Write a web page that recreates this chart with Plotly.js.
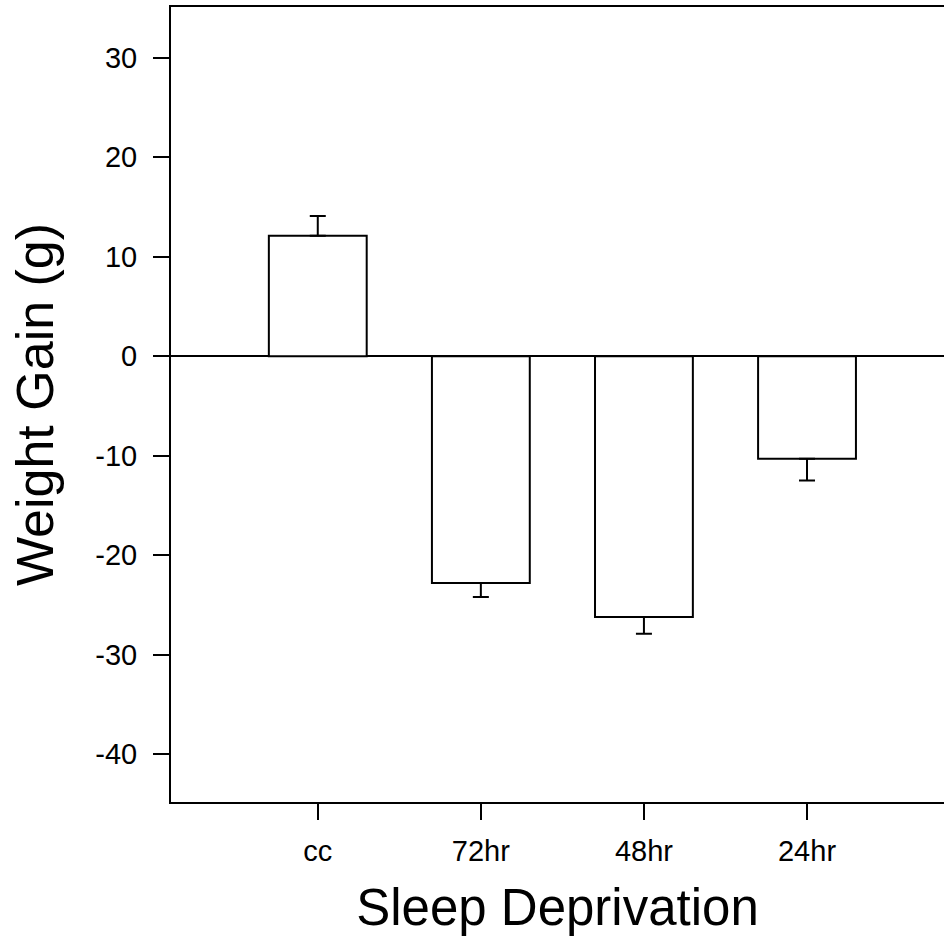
<!DOCTYPE html>
<html>
<head>
<meta charset="utf-8">
<script src="https://cdn.plot.ly/plotly-3.0.1.min.js"></script>
<style>html,body{margin:0;padding:0;background:#fff;}#chart{width:944px;height:946px;}</style>
</head>
<body>
<div id="chart"></div>
<script>
const categories = ["cc", "72hr", "48hr", "24hr"];
const values = [12.1, -22.8, -26.2, -10.3];
const errUp = [2.0, 0, 0, 0];
const errDown = [0, 1.4, 1.7, 2.2];

const FONT = "Liberation Sans, Arial, sans-serif";

const trace = {
  type: "bar",
  x: categories,
  y: values,
  width: 0.6,
  marker: {color: "#ffffff", line: {color: "#000000", width: 2}},
  error_y: {type: "data", symmetric: false, array: errUp, arrayminus: errDown,
            color: "#000000", thickness: 2, width: 8},
  hoverinfo: "none"
};

const layout = {
  width: 944, height: 946,
  margin: {l: 171, r: 0, t: 7, b: 144},
  paper_bgcolor: "#ffffff", plot_bgcolor: "#ffffff",
  showlegend: false,
  font: {family: FONT, color: "#000"},
  xaxis: {
    type: "category",
    range: [-0.9, 3.84],
    showline: true, linecolor: "#000", linewidth: 2, mirror: true,
    ticks: "outside", ticklen: 16, tickwidth: 2, tickcolor: "#000",
    ticklabelstandoff: 6,
    showgrid: false, zeroline: false,
    tickfont: {size: 29, family: FONT},
    title: {text: "Sleep Deprivation", font: {size: 51, family: FONT}, standoff: 24}
  },
  yaxis: {
    range: [-44.8, 35.1],
    tickvals: [-40, -30, -20, -10, 0, 10, 20, 30],
    ticktext: ["-40", "-30", "-20", "-10", "0", "10", "20", "30"],
    showline: true, linecolor: "#000", linewidth: 2,
    ticks: "outside", ticklen: 16, tickwidth: 2, tickcolor: "#000",
    ticklabelstandoff: 10,
    showgrid: false,
    zeroline: true, zerolinecolor: "#000", zerolinewidth: 2,
    tickfont: {size: 29, family: FONT},
    title: {text: "Weight Gain (g)", font: {size: 52, family: FONT}, standoff: 25}
  }
};

Plotly.newPlot("chart", [trace], layout, {displayModeBar: false, staticPlot: true});
</script>
</body>
</html>
